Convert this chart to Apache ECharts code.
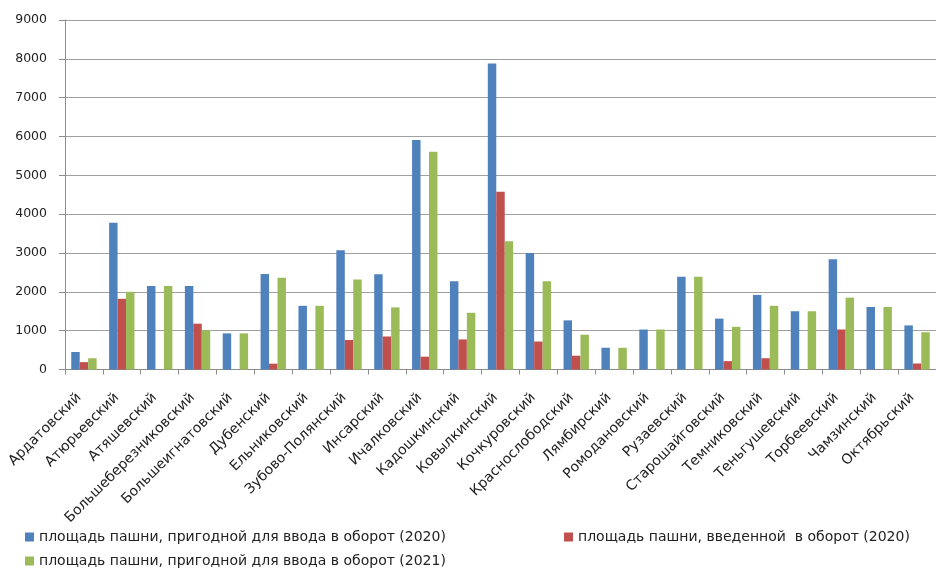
<!DOCTYPE html>
<html>
<head>
<meta charset="utf-8">
<script src="https://cdn.jsdelivr.net/npm/echarts@6/dist/echarts.min.js"></script>
<style>
  html, body { margin: 0; padding: 0; background: #fff; }
  #chart { width: 936px; height: 573px; }
</style>
</head>
<body>
<div id="chart"></div>
<script>
// Districts (municipal raions)
const categories = [
  'Ардатовский', 'Атюрьевский', 'Атяшевский', 'Большеберезниковский',
  'Большеигнатовский', 'Дубенский', 'Ельниковский', 'Зубово-Полянский',
  'Инсарский', 'Ичалковский', 'Кадошкинский', 'Ковылкинский',
  'Кочкуровский', 'Краснослободский', 'Лямбирский', 'Ромодановский',
  'Рузаевский', 'Старошайговский', 'Темниковский', 'Теньгушевский',
  'Торбеевский', 'Чамзинский', 'Октябрьский'
];

const seriesNames = [
  'площадь пашни, пригодной для ввода в оборот (2020)',
  'площадь пашни, введенной  в оборот (2020)',
  'площадь пашни, пригодной для ввода в оборот (2021)'
];

// Arable land suitable for return to use, 2020
const suitable2020 = [450, 3780, 2150, 2150, 930, 2460, 1640, 3070, 2450, 5910, 2270, 7880,
                      3000, 1265, 560, 1030, 2390, 1310, 1920, 1500, 2840, 1610, 1135];
// Arable land returned to use, 2020
const returned2020 = [190, 1820, 0, 1180, 0, 150, 0, 760, 850, 330, 775, 4580,
                      720, 355, 0, 0, 0, 215, 290, 0, 1030, 0, 155];
// Arable land suitable for return to use, 2021
const suitable2021 = [290, 2000, 2150, 1010, 930, 2360, 1640, 2320, 1600, 5610, 1460, 3300,
                      2270, 895, 560, 1030, 2390, 1100, 1640, 1500, 1850, 1610, 960];

const yTicks = { min: 0, max: 9000, interval: 1000 };

const colors = ['#4F81BD', '#C0504D', '#9BBB59'];
const fontFamily = '"DejaVu Sans", Verdana, sans-serif';

const chart = echarts.init(document.getElementById('chart'), null, { renderer: 'canvas' });

function legendAt(name, left, top) {
  return {
    data: [name],
    left: left,
    top: top,
    orient: 'horizontal',
    icon: 'rect',
    itemWidth: 9,
    itemHeight: 9,
    padding: 0,
    textStyle: { fontFamily: fontFamily, fontSize: 14, color: '#222' },
    selectedMode: false
  };
}

chart.setOption({
  animation: false,
  backgroundColor: '#ffffff',
  color: colors,
  grid: { left: 65, top: 20, width: 875, height: 349.5, containLabel: false },
  legend: [
    legendAt(seriesNames[0], 25, 530),
    legendAt(seriesNames[1], 564, 530),
    legendAt(seriesNames[2], 25, 554)
  ],
  xAxis: {
    type: 'category',
    data: categories,
    boundaryGap: true,
    axisLine: { lineStyle: { color: '#8c8c8c', width: 1 } },
    axisTick: { show: true, alignWithLabel: false, length: 5, lineStyle: { color: '#8c8c8c' } },
    axisLabel: {
      interval: 0,
      rotate: 45,
      margin: 21,
      padding: [0, 7, 0, 0],
      fontFamily: fontFamily,
      fontSize: 14,
      color: '#222'
    },
    splitLine: { show: false }
  },
  yAxis: {
    type: 'value',
    min: yTicks.min,
    max: yTicks.max,
    interval: yTicks.interval,
    axisLine: { show: true, lineStyle: { color: '#8c8c8c', width: 1 } },
    axisTick: { show: true, length: 6, lineStyle: { color: '#8c8c8c' } },
    axisLabel: {
      margin: 18,
      fontFamily: fontFamily,
      fontSize: 12.5,
      color: '#222',
      formatter: function (v) { return String(v); }
    },
    splitLine: { show: true, lineStyle: { color: '#a0a0a0', width: 1.2 } }
  },
  series: [
    { name: seriesNames[0], type: 'bar', data: suitable2020, barGap: '0%', barCategoryGap: '33%' },
    { name: seriesNames[1], type: 'bar', data: returned2020, barGap: '0%', barCategoryGap: '33%' },
    { name: seriesNames[2], type: 'bar', data: suitable2021, barGap: '0%', barCategoryGap: '33%' }
  ]
});
</script>
</body>
</html>
